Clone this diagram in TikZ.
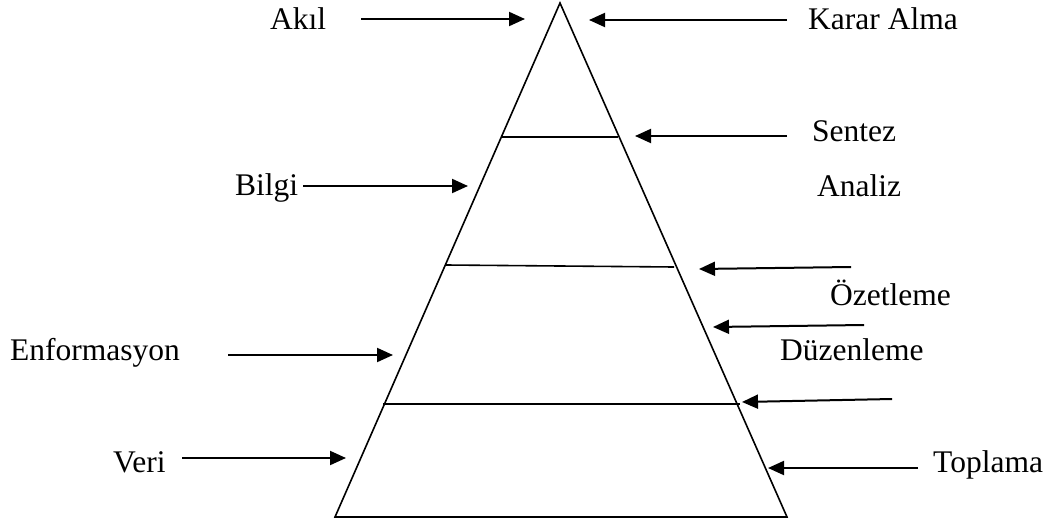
\documentclass[tikz,border=0pt]{standalone}
\usepackage{fontspec}
\setmainfont{Liberation Serif}
\usetikzlibrary{arrows.meta}

\begin{document}
\begin{tikzpicture}[x=1pt,y=1pt,yscale=-1,xscale=1,
  lbl/.style={anchor=base west,inner sep=0pt,font=\fontsize{31.5}{37}\selectfont},
  arr/.style={line width=2,-{Triangle[length=16pt,width=14pt]}}]
\useasboundingbox (0,0) rectangle (1056,524);

%Pyramid
\coordinate (apex) at (560,3);
\coordinate (bl) at (335,517);
\coordinate (br) at (787,517);
\draw [line width=1.6]    (apex) -- (bl) -- (br) -- cycle ;
%Straight Lines
\coordinate (l1a) at (502,137); \coordinate (l1b) at (618,137);
\coordinate (l2a) at (446,265); \coordinate (l2b) at (674,267);
\coordinate (l3a) at (383,404); \coordinate (l3b) at (740,404);
\draw [line width=1.6]    (l1a) -- (l1b) ;
\draw [line width=1.6]    (l2a) -- (l2b) ;
\draw [line width=1.6]    (l3a) -- (l3b) ;

% Text Node
\node [lbl] (akil) at (270,30) {Akıl};
\node [lbl] (karar) at (808,30) {Karar Alma};
\node [lbl] (sentez) at (812,141) {Sentez};
\node [lbl] (bilgi) at (235,195) {Bilgi};
\node [lbl] (analiz) at (817,196) {Analiz};
\node [lbl] (ozet) at (830,305) {Özetleme};
\node [lbl] (enf) at (10,360) {Enformasyon};
\node [lbl] (duzen) at (780,360) {Düzenleme};
\node [lbl] (veri) at (113,472) {Veri};
\node [lbl] (toplama) at (933,472) {Toplama};

%Arrows
\coordinate (a1s) at (361,19);  \coordinate (a1e) at (525,19);
\coordinate (a2s) at (787,20);  \coordinate (a2e) at (589,20);
\coordinate (a3s) at (787,136); \coordinate (a3e) at (635,136);
\coordinate (a4s) at (303,186); \coordinate (a4e) at (468,186);
\coordinate (a5s) at (851,267); \coordinate (a5e) at (699,269);
\coordinate (a6s) at (864,325); \coordinate (a6e) at (713,327);
\coordinate (a7s) at (228,355); \coordinate (a7e) at (393,355);
\coordinate (a8s) at (892,399); \coordinate (a8e) at (742,402);
\coordinate (a9s) at (182,458); \coordinate (a9e) at (346,458);
\coordinate (a10s) at (918,468); \coordinate (a10e) at (768,468);
\draw [arr] (a1s) -- (a1e) ;
\draw [arr] (a2s) -- (a2e) ;
\draw [arr] (a3s) -- (a3e) ;
\draw [arr] (a4s) -- (a4e) ;
\draw [arr] (a5s) -- (a5e) ;
\draw [arr] (a6s) -- (a6e) ;
\draw [arr] (a7s) -- (a7e) ;
\draw [arr] (a8s) -- (a8e) ;
\draw [arr] (a9s) -- (a9e) ;
\draw [arr] (a10s) -- (a10e) ;
\end{tikzpicture}
\end{document}
